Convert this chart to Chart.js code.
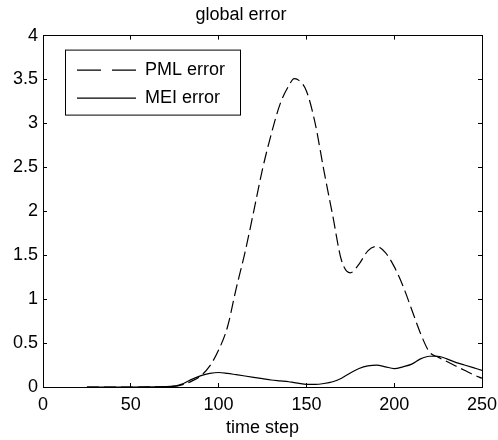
<!DOCTYPE html>
<html>
<head>
<meta charset="utf-8">
<script src="https://cdn.jsdelivr.net/npm/chart.js@4.4.0/dist/chart.umd.min.js"></script>
<style>
  body { margin: 0; background: #fff; }
  .chart-container { width: 498px; height: 440px; }
</style>
</head>
<body>
<div class="chart-container"><canvas id="globalError"></canvas></div>
<script>
// time step samples
const timeSteps = [25, 50, 75, 80, 85, 90, 95, 100, 105, 110, 115, 120, 125, 130, 135, 140, 143, 145, 150, 155,
  160, 165, 170, 175, 180, 185, 190, 195, 200, 205, 210, 215, 220, 225, 230, 235, 240, 245, 250]
const pmlError = [0, 0, 0.01, 0.03, 0.07, 0.13, 0.24, 0.42, 0.68, 1.12, 1.53, 2.0, 2.48, 2.88, 3.22, 3.43, 3.51, 3.5, 3.37, 3.0,
  2.46, 1.95, 1.44, 1.30, 1.40, 1.55, 1.60, 1.53, 1.37, 1.15, 0.88, 0.61, 0.40, 0.34, 0.29, 0.24, 0.19, 0.14, 0.10]
const meiError = [0, 0, 0.01, 0.04, 0.09, 0.13, 0.155, 0.165, 0.155, 0.14, 0.125, 0.11, 0.095, 0.08, 0.07, 0.06, 0.05, 0.045, 0.03, 0.03,
  0.04, 0.06, 0.10, 0.16, 0.21, 0.24, 0.25, 0.23, 0.21, 0.23, 0.26, 0.32, 0.35, 0.35, 0.32, 0.28, 0.25, 0.22, 0.19]
const seriesLabels = ['PML error', 'MEI error']
const xTicks = [0, 50, 100, 150, 200, 250]
const yTicks = [0, 0.5, 1, 1.5, 2, 2.5, 3, 3.5, 4]

const FONT = '"Liberation Sans", Arial, sans-serif'

function toPoints(values) {
  return timeSteps.map((t, i) => ({ x: t, y: values[i] }))
}

// legend box drawn inside the axes, matlab style
const boxLegend = {
  id: 'boxLegend',
  afterDraw(chart) {
    const ctx = chart.ctx
    const area = chart.chartArea
    const left = area.left + 22, top = area.top + 14
    ctx.save()
    ctx.fillStyle = '#fff'
    ctx.fillRect(left, top, 175, 65)
    ctx.strokeStyle = '#000'
    ctx.lineWidth = 1
    ctx.strokeRect(left + 0.5, top + 0.5, 175, 65)
    ctx.font = '18px ' + FONT
    ctx.fillStyle = '#000'
    ctx.textBaseline = 'middle'
    chart.data.datasets.forEach((ds, i) => {
      const y = top + 20 + i * 28
      ctx.beginPath()
      ctx.setLineDash(i === 0 ? [24, 11] : [])
      ctx.lineWidth = 1.2
      ctx.moveTo(left + 12, y + 0.5)
      ctx.lineTo(left + 71, y + 0.5)
      ctx.stroke()
      ctx.setLineDash([])
      ctx.fillText(ds.label, left + 80, y)
    })
    ctx.restore()
  }
}

const tickGrid = { drawOnChartArea: false, drawTicks: true, tickLength: -4, color: '#000' }
const border = { display: true, color: '#000', width: 1 }
const plainLabel = v => String(v)

// keep label overflow from shrinking the plot box
function fitX(height) {
  return s => { s.height = height; s.paddingLeft = 0; s.paddingRight = 0 }
}
function fitY(width) {
  return s => { s.width = width; s.paddingTop = 0; s.paddingBottom = 0 }
}

const config = {
  type: 'line',
  data: {
    datasets: [{
      label: seriesLabels[0],
      data: toPoints(pmlError),
      borderColor: '#000',
      borderWidth: 1.2,
      borderDash: [12, 5],
      pointRadius: 0,
      cubicInterpolationMode: 'monotone'
    }, {
      label: seriesLabels[1],
      data: toPoints(meiError),
      borderColor: '#000',
      borderWidth: 1.2,
      pointRadius: 0,
      cubicInterpolationMode: 'monotone'
    }]
  },
  options: {
    responsive: true,
    maintainAspectRatio: false,
    animation: false,
    layout: { padding: { left: 0, right: 16, top: 0, bottom: 0 } },
    plugins: {
      legend: { display: false },
      tooltip: { enabled: false },
      title: {
        display: true,
        text: 'global error',
        color: '#000',
        font: { family: FONT, size: 18, weight: 'normal' },
        padding: { top: 4, bottom: 10 }
      }
    },
    scales: {
      x: {
        type: 'linear',
        position: 'bottom',
        min: 0, max: 250,
        afterBuildTicks: s => { s.ticks = xTicks.map(v => ({ value: v })) },
        ticks: { color: '#000', font: { family: FONT, size: 18 }, padding: 11, maxRotation: 0, callback: plainLabel },
        grid: tickGrid,
        border: border,
        title: { display: true, text: 'time step', color: '#000', font: { family: FONT, size: 18 }, padding: { top: 0, bottom: 1 } },
        afterFit: fitX(53)
      },
      x2: {
        type: 'linear',
        position: 'top',
        min: 0, max: 250,
        afterBuildTicks: s => { s.ticks = xTicks.map(v => ({ value: v })) },
        ticks: { display: false },
        grid: tickGrid,
        border: border,
        afterFit: fitX(0)
      },
      y: {
        min: 0, max: 4,
        afterBuildTicks: s => { s.ticks = yTicks.map(v => ({ value: v })) },
        ticks: { color: '#000', font: { family: FONT, size: 18 }, padding: 9, callback: plainLabel },
        grid: tickGrid,
        border: border,
        afterFit: fitY(43)
      },
      y2: {
        position: 'right',
        min: 0, max: 4,
        afterBuildTicks: s => { s.ticks = yTicks.map(v => ({ value: v })) },
        ticks: { display: false },
        grid: tickGrid,
        border: border,
        afterFit: fitY(0)
      }
    }
  },
  plugins: [boxLegend]
}

const chart = new Chart(document.getElementById('globalError'), config)
</script>
</body>
</html>
